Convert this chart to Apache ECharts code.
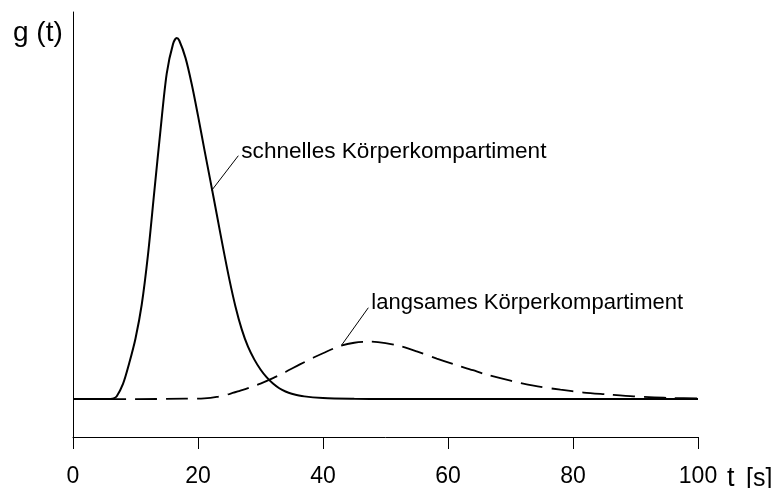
<!DOCTYPE html>
<html>
<head>
<meta charset="utf-8">
<script src="https://cdn.jsdelivr.net/npm/echarts@6/dist/echarts.min.js"></script>
<style>
  html, body { margin: 0; padding: 0; background: #fff; }
  #chart { width: 780px; height: 488px; }
</style>
</head>
<body>
<div id="chart"></div>
<script>
// Zeitachse (Sekunden)
const xTickStep = 20;
const xMin = 0;
const xMax = 100;

// schnelles Körperkompartiment: t [s] und g(t) (relativ, Maximum = 1)
const tFast = [0, 5, 6, 6.5, 7, 8, 9, 10, 11, 12, 13, 14, 15, 16, 16.6, 17, 18, 19, 20, 21, 22, 23, 24, 25, 26, 27, 28, 29, 30, 31, 32, 33, 34, 35, 37, 40, 45, 50, 60, 80, 100];
const gFast = [0, 0, 0.0005, 0.002, 0.008, 0.042, 0.1, 0.168, 0.262, 0.4, 0.573, 0.745, 0.902, 0.983, 1.0, 0.993, 0.945, 0.872, 0.785, 0.693, 0.603, 0.512, 0.42, 0.333, 0.256, 0.193, 0.145, 0.11, 0.082, 0.06, 0.043, 0.03, 0.021, 0.015, 0.0075, 0.003, 0.0008, 0, 0, 0, 0];

// langsames Körperkompartiment
const tSlow = [0, 10, 18, 21, 23, 25, 26.7, 28.3, 30, 32, 34, 36.3, 38.5, 40, 42.7, 45, 47.5, 50, 52.3, 55, 58.2, 61, 64, 65.7, 70, 73.7, 78, 81.7, 85.4, 89.7, 93, 96, 100];
const gSlow = [0, 0, 0.001, 0.002, 0.006, 0.014, 0.023, 0.032, 0.043, 0.058, 0.075, 0.096, 0.115, 0.127, 0.147, 0.156, 0.159, 0.155, 0.147, 0.132, 0.112, 0.096, 0.08, 0.07, 0.051, 0.037, 0.026, 0.018, 0.013, 0.0075, 0.005, 0.003, 0.002];

// Beschriftungen mit Hinweislinien: [t, g] am Kurvenpunkt und am Textanfang
const fastLabel = 'schnelles Körperkompartiment';
const fastLeader = [[22.19, 0.578], [26.45, 0.674]];
const slowLabel = 'langsames Körperkompartiment';
const slowLeader = [[43.0, 0.150], [47.25, 0.253]];

const yAxisName = 'g (t)';
const xAxisName = 't';
const xAxisUnit = '[s]';

const FONT = '"Liberation Sans", Arial, Helvetica, sans-serif';

function pairs(xs, ys) { return xs.map((x, i) => [x, ys[i]]); }

function leader(points, text, offsetY, size) {
  return {
    markLine: {
      silent: true,
      symbol: ['none', 'none'],
      label: { show: false },
      lineStyle: { color: '#000', width: 1, type: 'solid' },
      emphasis: { disabled: true },
      data: [[{ coord: points[0] }, { coord: points[1] }]]
    },
    markPoint: {
      silent: true,
      symbol: 'circle',
      symbolSize: 0,
      data: [{ coord: points[1] }],
      label: {
        show: true,
        position: 'right',
        distance: 3,
        offset: [0, offsetY],
        formatter: text,
        color: '#000',
        fontFamily: FONT,
        fontSize: size
      }
    }
  };
}

const chart = echarts.init(document.getElementById('chart'), null, { renderer: 'canvas' });

chart.setOption({
  animation: false,
  backgroundColor: '#fff',
  grid: { left: 73, right: 82, top: 12, bottom: 48, containLabel: false },
  xAxis: {
    type: 'value',
    min: xMin,
    max: xMax,
    interval: xTickStep,
    axisLine: { onZero: false, lineStyle: { color: '#000', width: 1 } },
    axisTick: { show: true, inside: false, length: 12, lineStyle: { color: '#000', width: 1 } },
    axisLabel: { color: '#000', fontFamily: FONT, fontSize: 23, margin: 28 },
    splitLine: { show: false }
  },
  yAxis: {
    type: 'value',
    min: -0.105,
    max: 1.072,
    axisLine: { show: true, onZero: false, lineStyle: { color: '#000', width: 1 } },
    axisTick: { show: false },
    axisLabel: { show: false },
    splitLine: { show: false }
  },
  graphic: [
    { type: 'text', left: 13, top: 19, style: { text: yAxisName, fill: '#000', font: '28px ' + FONT } },
    { type: 'text', x: 727, y: 479, style: { text: xAxisName, fill: '#000', font: '27px ' + FONT, verticalAlign: 'middle' } },
    { type: 'text', x: 746, y: 479, style: { text: xAxisUnit, fill: '#000', font: '25px ' + FONT, verticalAlign: 'middle' } }
  ],
  series: [
    Object.assign({
      type: 'line',
      name: fastLabel,
      data: pairs(tFast, gFast),
      smooth: 0.3,
      showSymbol: false,
      lineStyle: { color: '#000', width: 2 },
      z: 3
    }, leader(fastLeader, fastLabel, -4, 22.6)),
    Object.assign({
      type: 'line',
      name: slowLabel,
      data: pairs(tSlow, gSlow),
      smooth: 0.3,
      showSymbol: false,
      lineStyle: { color: '#000', width: 1.8, type: [22, 9] },
      z: 2
    }, leader(slowLeader, slowLabel, -5, 22))
  ]
});
</script>
</body>
</html>
